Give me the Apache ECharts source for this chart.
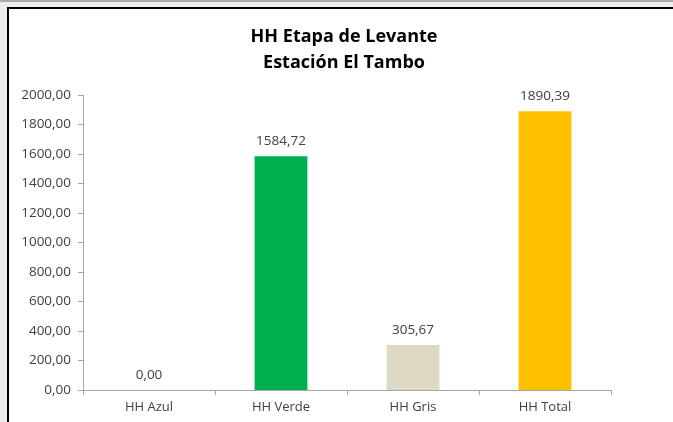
<!DOCTYPE html>
<html>
<head>
<meta charset="utf-8">
<script src="https://cdn.jsdelivr.net/npm/echarts@6/dist/echarts.min.js"></script>
<style>
  html, body { margin: 0; padding: 0; background: #ececec; }
  #top { position: absolute; left: 0; top: 0; width: 673px; height: 2px; background: #a9a9a9; }
  #frame {
    position: absolute; left: 7px; top: 7px; width: 666px; height: 415px;
    background: #ffffff; border-top: 2px solid #000; border-left: 2px solid #000;
    box-sizing: border-box;
  }
  #chart { width: 664px; height: 413px; }
</style>
</head>
<body>
<div id="top"></div>
<div id="frame"><div id="chart"></div></div>
<script>
// Chart data
const categories = ['HH Azul', 'HH Verde', 'HH Gris', 'HH Total'];
const values = [0, 1584.72, 305.67, 1890.39];
const barColors = ['#4472C4', '#00B050', '#DDD9C4', '#FFC000'];

const fmt = v => v.toFixed(2).replace('.', ',');

var chart = echarts.init(document.getElementById('chart'));

const option = {
    animation: false,
    textStyle: { fontFamily: 'Open Sans' },
    title: {
        text: 'HH Etapa de Levante\nEstación El Tambo',
        left: 330, top: 10, textAlign: 'center',
        textStyle: { fontSize: 18, fontWeight: 'bold', color: '#000', lineHeight: 26, fontFamily: 'Open Sans' }
    },
    grid: { left: 74, right: 62, top: 86, bottom: 32 },
    xAxis: {
        type: 'category',
        data: categories,
        axisLine: { lineStyle: { color: '#a6a6a6' } },
        axisTick: { show: true, length: 5, lineStyle: { color: '#a6a6a6' } },
        axisLabel: { color: '#404040', fontSize: 13, margin: 11 }
    },
    yAxis: {
        type: 'value',
        min: 0, max: 2000, interval: 200,
        axisLine: { show: true, lineStyle: { color: '#a6a6a6' } },
        axisTick: { show: true, length: 5, lineStyle: { color: '#a6a6a6' } },
        splitLine: { show: false },
        axisLabel: { color: '#404040', fontSize: 13.5, margin: 12, formatter: v => fmt(v) }
    },
    series: [{
        type: 'bar',
        barWidth: '40%',
        data: values.map((v, i) => ({ value: v, itemStyle: { color: barColors[i] } })),
        label: {
            show: true, position: 'top', distance: 8,
            color: '#404040', fontSize: 13.5,
            formatter: p => fmt(p.value)
        }
    }]
};

chart.setOption(option);
</script>
</body>
</html>
